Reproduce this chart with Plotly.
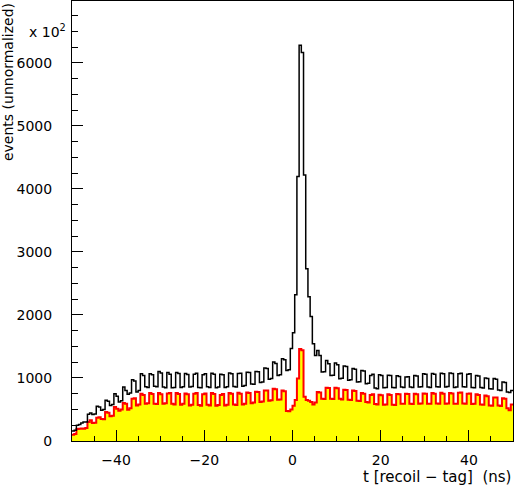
import plotly.graph_objects as go

# Histogram: t [recoil - tag] in ns, 200 bins of 0.5 ns from -50 to 50
T_MIN = -50.0
BIN_WIDTH = 0.5

# all events (black outline), counts in units of 10^2
all_events = [
    160, 170, 250, 262, 285, 300, 300, 423, 444, 420,
    430, 550, 540, 486, 500, 645, 630, 565, 580, 750,
    708, 618, 640, 855, 803, 740, 760, 973, 950, 776,
    800, 1068, 1040, 860, 850, 1068, 1050, 870, 860, 1104,
    1080, 855, 845, 1085, 1060, 843, 850, 1085, 1070, 850,
    860, 1070, 1055, 855, 865, 1060, 1075, 850, 845, 1050,
    1065, 860, 850, 1075, 1060, 845, 855, 1060, 1050, 850,
    860, 1080, 1065, 865, 855, 1070, 1075, 870, 880, 1090,
    1085, 905, 900, 1104, 1100, 930, 935, 1160, 1150, 980,
    990, 1252, 1230, 1040, 1050, 1305, 1290, 1120, 1130, 1469,
    1717, 2319, 4194, 6280, 6163, 4220, 2731, 2288, 1976, 1543,
    1358, 1437, 1358, 1093, 1100, 1279, 1226, 1040, 1045, 1236,
    1210, 988, 995, 1188, 1180, 962, 970, 1150, 1140, 935,
    940, 1120, 1110, 909, 915, 1040, 1060, 840, 830, 1050,
    1040, 845, 850, 1045, 1040, 850, 845, 1035, 1025, 855,
    850, 1014, 1020, 855, 850, 1040, 1030, 855, 860, 1068,
    1060, 855, 850, 1070, 1060, 860, 855, 1075, 1068, 855,
    865, 1080, 1070, 850, 855, 1068, 1075, 860, 855, 1060,
    1068, 850, 845, 1040, 1030, 850, 840, 1000, 990, 830,
    825, 990, 980, 810, 800, 935, 930, 776, 770, 803,
]

# selected events (yellow fill, red outline)
selected_events = [
    100, 110, 190, 196, 200, 196, 205, 301, 328, 285,
    290, 370, 375, 350, 345, 460, 450, 391, 400, 539,
    510, 480, 500, 602, 590, 497, 520, 672, 680, 565,
    580, 750, 730, 592, 600, 760, 745, 592, 585, 760,
    740, 590, 600, 755, 760, 592, 580, 760, 745, 575,
    590, 755, 740, 565, 575, 750, 760, 570, 560, 740,
    755, 575, 565, 760, 745, 560, 570, 730, 745, 565,
    575, 760, 750, 580, 570, 765, 750, 580, 590, 770,
    760, 600, 610, 780, 777, 618, 625, 800, 803, 640,
    645, 830, 820, 656, 660, 803, 790, 475, 470, 500,
    560, 650, 990, 1460, 1440, 700, 650, 640, 620, 580,
    610, 777, 770, 672, 665, 846, 840, 672, 665, 846,
    835, 672, 660, 814, 810, 655, 650, 803, 795, 640,
    635, 760, 750, 618, 610, 730, 740, 585, 581, 735,
    725, 575, 580, 740, 730, 575, 570, 745, 740, 590,
    592, 750, 745, 592, 585, 750, 740, 590, 595, 755,
    750, 590, 592, 760, 750, 595, 590, 765, 750, 592,
    595, 760, 755, 590, 592, 765, 770, 595, 590, 750,
    755, 585, 590, 740, 730, 580, 575, 720, 710, 565,
    560, 690, 690, 565, 555, 680, 670, 518, 486, 581,
]

x_tick_vals = [-40, -20, 0, 20, 40]
y_tick_vals = [0, 1000, 2000, 3000, 4000, 5000, 6000]

n_bins = len(all_events)
edges = [T_MIN + BIN_WIDTH * i for i in range(n_bins + 1)]

FONT = "DejaVu Sans"

fig = go.Figure()
fig.add_trace(go.Scatter(
    x=edges, y=selected_events + [selected_events[-1]],
    mode="lines", line=dict(shape="hv", color="#ff0000", width=2),
    fill="tozeroy", fillcolor="#ffff00", hoverinfo="skip",
))
fig.add_trace(go.Scatter(
    x=edges, y=all_events + [all_events[-1]],
    mode="lines", line=dict(shape="hv", color="#000000", width=1.5),
    hoverinfo="skip",
))

fig.update_layout(
    width=514, height=485,
    margin=dict(l=72, r=1, t=1, b=44, pad=0),
    paper_bgcolor="white", plot_bgcolor="white",
    showlegend=False,
    font=dict(family=FONT, size=14, color="black"),
    xaxis=dict(
        range=[-50, 50], tickvals=x_tick_vals, ticks="inside", ticklen=11,
        tickwidth=1, tickcolor="black", showline=True, linecolor="black",
        linewidth=1, mirror=True, showgrid=False, zeroline=False,
        ticklabelstandoff=6,
        minor=dict(dtick=5, tick0=0, ticks="inside", ticklen=5, tickcolor="black", showgrid=False),
    ),
    yaxis=dict(
        range=[0, 6980], tickvals=y_tick_vals, tickformat="d", ticks="inside",
        ticklen=11, tickwidth=1, tickcolor="black", showline=True,
        linecolor="black", linewidth=1, mirror=True, showgrid=False,
        zeroline=False, ticklabelstandoff=16,
        minor=dict(dtick=250, tick0=0, ticks="inside", ticklen=6, tickcolor="black", showgrid=False),
    ),
    annotations=[
        dict(text="t [recoil \u2212 tag]\u00a0\u00a0(ns)", xref="paper", yref="paper",
             x=1, y=-0.082, xanchor="right", yanchor="middle", showarrow=False,
             font=dict(family=FONT, size=15)),
        dict(text="events (unnormalized)", xref="paper", yref="paper",
             x=-0.145, y=1, xanchor="center", yanchor="top", textangle=-90,
             showarrow=False, font=dict(family=FONT, size=14)),
        dict(text="x 10<sup>2</sup>", xref="paper", yref="y",
             x=-0.01, y=6500, xanchor="right", yanchor="middle",
             showarrow=False, font=dict(family=FONT, size=14)),
    ],
)

fig.write_html("out.html", config={"displayModeBar": False},
               post_script="document.body.style.margin='0';")
